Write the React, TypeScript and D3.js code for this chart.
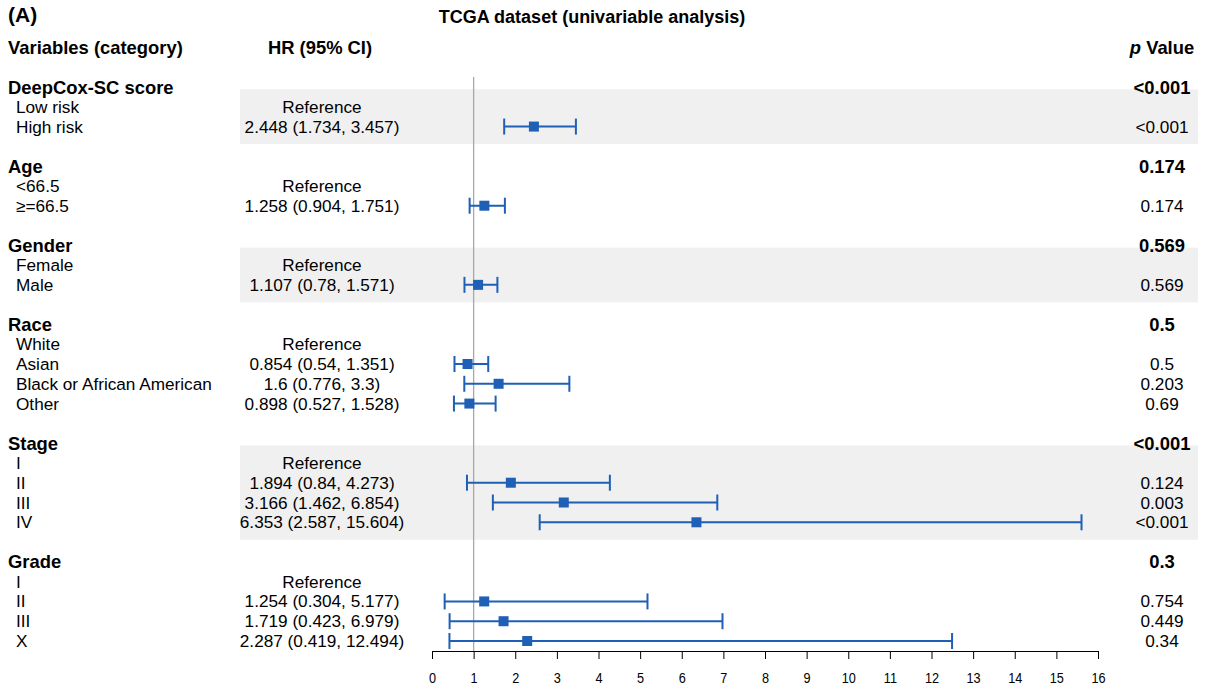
import React, { useEffect, useRef } from 'react';
import * as d3 from 'd3';

// Rows of the forest plot, top to bottom
const groups = ['DeepCox-SC score', 'Age', 'Gender', 'Race', 'Stage', 'Grade'];
const groupP = ['<0.001', '0.174', '0.569', '0.5', '<0.001', '0.3'];
const categories = [
  ['Low risk', 'High risk'],
  ['<66.5', '≥=66.5'],
  ['Female', 'Male'],
  ['White', 'Asian', 'Black or African American', 'Other'],
  ['I', 'II', 'III', 'IV'],
  ['I', 'II', 'III', 'X'],
];
// null = reference level
const hr = [
  [null, 2.448],
  [null, 1.258],
  [null, 1.107],
  [null, 0.854, 1.6, 0.898],
  [null, 1.894, 3.166, 6.353],
  [null, 1.254, 1.719, 2.287],
];
const lower = [
  [null, 1.734],
  [null, 0.904],
  [null, 0.78],
  [null, 0.54, 0.776, 0.527],
  [null, 0.84, 1.462, 2.587],
  [null, 0.304, 0.423, 0.419],
];
const upper = [
  [null, 3.457],
  [null, 1.751],
  [null, 1.571],
  [null, 1.351, 3.3, 1.528],
  [null, 4.273, 6.854, 15.604],
  [null, 5.177, 6.979, 12.494],
];
const pValues = [
  [null, '<0.001'],
  [null, '0.174'],
  [null, '0.569'],
  [null, '0.5', '0.203', '0.69'],
  [null, '0.124', '0.003', '<0.001'],
  [null, '0.754', '0.449', '0.34'],
];
const xTicks = d3.range(0, 17);

const W = 1205;
const H = 691;
const FONT = '"Liberation Sans", Arial, sans-serif';
const BLUE = '#1f5fb5';

export default function App() {
  const ref = useRef<SVGSVGElement>(null);

  useEffect(() => {
    const svg = d3.select(ref.current);
    svg.selectAll('*').remove();

    const x = d3.scaleLinear().domain([0, 16]).range([432, 1098]);
    // row index -> y
    let nRows = 0;
    groups.forEach((g, i) => { nRows += 1 + categories[i].length + (i < groups.length - 1 ? 1 : 0); });
    const y = d3.scaleLinear().domain([0, nRows - 1]).range([87, 641]);

    const hrX = 322;
    const pX = 1162;

    // header
    svg.append('text').attr('x', 8).attr('y', 14).attr('dominant-baseline', 'central')
      .attr('font-size', 21).attr('font-weight', 'bold').text('(A)');
    svg.append('text').attr('x', 592).attr('y', 17).attr('dominant-baseline', 'central')
      .attr('text-anchor', 'middle').attr('font-size', 18).attr('font-weight', 'bold')
      .text('TCGA dataset (univariable analysis)');
    svg.append('text').attr('x', 8).attr('y', 47).attr('dominant-baseline', 'central')
      .attr('font-size', 18.4).attr('font-weight', 'bold').text('Variables (category)');
    svg.append('text').attr('x', 320).attr('y', 47).attr('dominant-baseline', 'central')
      .attr('text-anchor', 'middle').attr('font-size', 18.4).attr('font-weight', 'bold').text('HR (95% CI)');
    const ph = svg.append('text').attr('x', pX).attr('y', 47).attr('dominant-baseline', 'central')
      .attr('text-anchor', 'middle').attr('font-size', 18.4).attr('font-weight', 'bold');
    ph.append('tspan').attr('font-style', 'italic').text('p');
    ph.append('tspan').text(' Value');

    // background bands for alternating groups
    const bands = svg.append('g');
    const body = svg.append('g');

    let row = 0;
    groups.forEach((g, gi) => {
      const cats = categories[gi];
      if (gi % 2 === 0) {
        bands.append('rect')
          .attr('x', 240).attr('width', 1198 - 240)
          .attr('y', y(row + 1) - 17.5)
          .attr('height', y(row + cats.length) - y(row + 1) + 35)
          .attr('fill', '#f0f0f0');
      }
      body.append('text').attr('x', 8).attr('y', y(row)).attr('dominant-baseline', 'central')
        .attr('font-size', 18.4).attr('font-weight', 'bold').text(g);
      body.append('text').attr('x', pX).attr('y', y(row)).attr('dominant-baseline', 'central')
        .attr('text-anchor', 'middle').attr('font-size', 18.4).attr('font-weight', 'bold').text(groupP[gi]);
      row += 1;
      cats.forEach((c, ci) => {
        const yy = y(row);
        body.append('text').attr('x', 16).attr('y', yy).attr('dominant-baseline', 'central')
          .attr('font-size', 17.2).text(c);
        const est = hr[gi][ci];
        const lo = lower[gi][ci];
        const hi = upper[gi][ci];
        const label = est == null ? 'Reference' : `${est} (${lo}, ${hi})`;
        body.append('text').attr('x', hrX).attr('y', yy).attr('dominant-baseline', 'central')
          .attr('text-anchor', 'middle').attr('font-size', 17.2).text(label);
        if (pValues[gi][ci] != null) {
          body.append('text').attr('x', pX).attr('y', yy).attr('dominant-baseline', 'central')
            .attr('text-anchor', 'middle').attr('font-size', 17.2).text(pValues[gi][ci]);
        }
        row += 1;
      });
      row += 1;
    });

    // reference line at HR = 1
    body.append('line').attr('x1', x(1)).attr('x2', x(1)).attr('y1', 77).attr('y2', 651)
      .attr('stroke', '#a8a8a8').attr('stroke-width', 1.3);

    // error bars and points
    const marks = svg.append('g');
    row = 0;
    groups.forEach((g, gi) => {
      row += 1;
      categories[gi].forEach((c, ci) => {
        const est = hr[gi][ci];
        const lo = lower[gi][ci];
        const hi = upper[gi][ci];
        const yy = y(row);
        if (est != null && lo != null && hi != null) {
          marks.append('line').attr('x1', x(lo)).attr('x2', x(hi)).attr('y1', yy).attr('y2', yy)
            .attr('stroke', BLUE).attr('stroke-width', 2);
          [lo, hi].forEach((v) => {
            marks.append('line').attr('x1', x(v)).attr('x2', x(v)).attr('y1', yy - 8).attr('y2', yy + 8)
              .attr('stroke', BLUE).attr('stroke-width', 2);
          });
          marks.append('rect').attr('x', x(est) - 5).attr('y', yy - 5).attr('width', 10).attr('height', 10)
            .attr('fill', BLUE);
        }
        row += 1;
      });
      row += 1;
    });

    // x axis
    const axis = svg.append('g').attr('transform', 'translate(0,651)')
      .call(d3.axisBottom(x).tickValues(xTicks).tickFormat(d3.format('d')).tickSize(8).tickPadding(13));
    axis.select('.domain').attr('stroke', '#000');
    axis.selectAll('.tick text').attr('font-size', 15.5).attr('font-family', FONT).attr('fill', '#000')
      .attr('transform', 'scale(0.82,1)');
  }, []);

  return (
    <svg ref={ref} width={W} height={H} fontFamily={FONT}
      style={{ position: 'absolute', left: 0, top: 0, background: '#fff' }} />
  );
}
